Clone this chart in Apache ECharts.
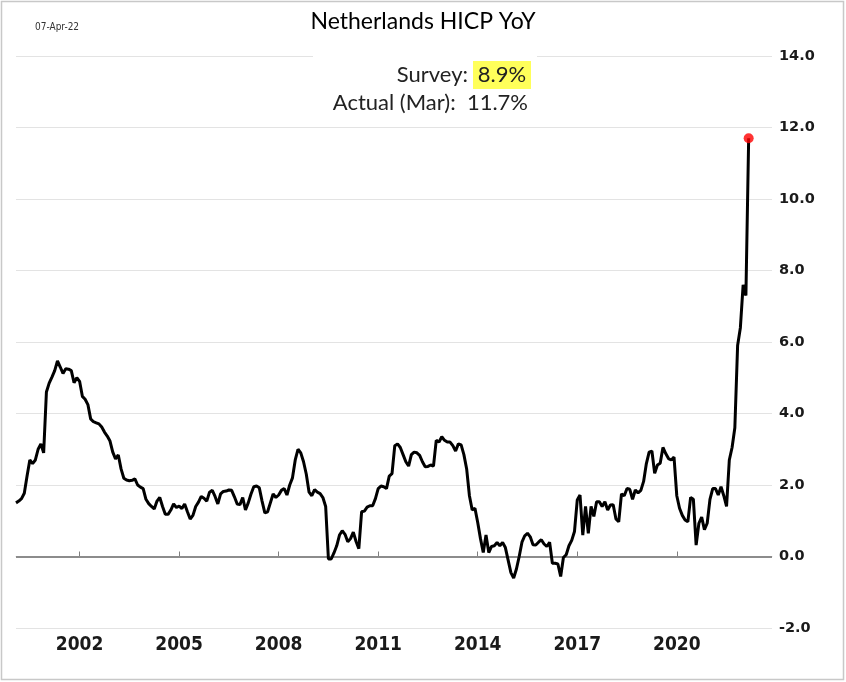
<!DOCTYPE html>
<html>
<head>
<meta charset="utf-8">
<script src="https://cdn.jsdelivr.net/npm/echarts@6/dist/echarts.min.js"></script>
<style>
  html, body { margin: 0; padding: 0; background: #fff; }
  #chart { width: 846px; height: 682px; }
</style>
</head>
<body>
<div id="chart"></div>
<script>
// monthly HICP YoY, %, starting Feb 2000
const startYear = 2000;
const startMonth = 2;
const hicp = [
  1.5, 1.55, 1.62, 1.77, 2.25, 2.7, 2.6, 2.7, 3.0, 3.15, 2.9,               // 2000 (Feb-Dec)
  4.6, 4.85, 5.02, 5.2, 5.47, 5.3, 5.12, 5.25, 5.24, 5.2, 4.86, 5.0,        // 2001
  4.9, 4.48, 4.4, 4.25, 3.85, 3.77, 3.74, 3.71, 3.62, 3.48, 3.37, 3.23,     // 2002
  2.92, 2.73, 2.84, 2.45, 2.19, 2.14, 2.12, 2.13, 2.17, 2.0, 1.94, 1.9,     // 2003
  1.6, 1.48, 1.4, 1.33, 1.55, 1.65, 1.4, 1.18, 1.18, 1.3, 1.47, 1.37,       // 2004
  1.41, 1.34, 1.47, 1.25, 1.05, 1.15, 1.4, 1.52, 1.68, 1.63, 1.55, 1.8,     // 2005
  1.85, 1.68, 1.47, 1.75, 1.82, 1.83, 1.86, 1.85, 1.67, 1.47, 1.45, 1.65,   // 2006
  1.3, 1.5, 1.75, 1.95, 1.97, 1.92, 1.55, 1.22, 1.25, 1.5, 1.75, 1.65,      // 2007
  1.72, 1.85, 1.9, 1.72, 2.0, 2.2, 2.7, 3.0, 2.9, 2.65, 2.3, 1.8,           // 2008
  1.7, 1.87, 1.8, 1.76, 1.65, 1.4, -0.07, -0.07, 0.1, 0.3, 0.6, 0.72,       // 2009
  0.62, 0.41, 0.5, 0.68, 0.42, 0.22, 1.25, 1.27, 1.38, 1.42, 1.42, 1.62,    // 2010
  1.9, 1.97, 1.95, 1.9, 2.25, 2.32, 3.1, 3.15, 3.05, 2.85, 2.65, 2.53,      // 2011
  2.85, 2.92, 2.9, 2.83, 2.65, 2.51, 2.52, 2.56, 2.53, 3.25, 3.2, 3.35,     // 2012
  3.25, 3.2, 3.2, 3.1, 2.95, 3.15, 3.12, 2.85, 2.45, 1.7, 1.3, 1.35,        // 2013
  0.95, 0.5, 0.11, 0.6, 0.11, 0.28, 0.3, 0.39, 0.3, 0.39, 0.25, -0.1,       // 2014
  -0.45, -0.6, -0.35, 0.0, 0.4, 0.58, 0.65, 0.55, 0.33, 0.32, 0.4, 0.47,    // 2015
  0.35, 0.28, 0.4, -0.19, -0.19, -0.21, -0.56, -0.03, 0.05, 0.3, 0.45, 0.7, // 2016
  1.58, 1.72, 0.6, 1.4, 0.65, 1.4, 1.12, 1.53, 1.53, 1.4, 1.53, 1.3,        // 2017
  1.44, 1.45, 1.05, 0.97, 1.75, 1.7, 1.9, 1.88, 1.6, 1.86, 1.78, 1.85,      // 2018
  2.1, 2.6, 2.92, 2.95, 2.33, 2.56, 2.61, 3.05, 2.88, 2.74, 2.7, 2.78,      // 2019
  1.7, 1.35, 1.15, 1.02, 0.97, 1.65, 1.6, 0.32, 0.93, 1.1, 0.75, 0.93,      // 2020
  1.6, 1.9, 1.9, 1.72, 1.95, 1.7, 1.4, 2.7, 3.05, 3.6, 5.9, 6.4,            // 2021
  7.6, 7.3, 11.7                                                            // 2022 (Jan-Mar)
];
const yearTicks = [2002, 2005, 2008, 2011, 2014, 2017, 2020];
const titleText = 'Netherlands HICP YoY';
const dateText = '07-Apr-22';
const surveyText = '8.9%';
const actualText = 'Actual (Mar):  11.7%';

// month -> decimal year
const points = hicp.map(function (v, i) {
    return [startYear + (startMonth - 1 + i) / 12, v];
});
const last = points[points.length - 1];

const chart = echarts.init(document.getElementById('chart'));
const narrow = "'Liberation Sans Narrow', 'DejaVu Sans Condensed', sans-serif";
const body = "Lato, 'Open Sans', sans-serif";

const option = {
    animation: false,
    backgroundColor: '#fff',
    title: {
        text: titleText,
        left: 'center',
        top: 5,
        textStyle: { fontFamily: body, fontSize: 23, fontWeight: 'normal', color: '#000' }
    },
    grid: { left: 16, right: 74, top: 56, bottom: 54 },
    xAxis: {
        type: 'value',
        min: points[0][0],
        max: 2022.87,
        axisLine: { lineStyle: { color: '#d9d9d9', width: 1 } },
        axisTick: { customValues: yearTicks, inside: true, length: 5, lineStyle: { color: '#7f7f7f' } },
        axisLabel: {
            customValues: yearTicks,
            margin: 8,
            fontFamily: narrow,
            fontWeight: 'bold',
            fontSize: 19,
            color: '#1a1a1a',
            formatter: function (v) { return String(v); }
        },
        splitLine: { show: false }
    },
    yAxis: {
        type: 'value',
        position: 'right',
        min: -2,
        max: 14,
        interval: 2,
        axisLine: { show: false },
        axisTick: { show: false },
        axisLabel: {
            margin: 7,
            fontFamily: "'DejaVu Sans', sans-serif",
            fontWeight: 'bold',
            fontSize: 14.5,
            color: '#1a1a1a',
            formatter: function (v) { return v.toFixed(1); }
        },
        splitLine: { lineStyle: { color: '#e3e3e3', width: 1 } }
    },
    series: [
        {
            type: 'line',
            data: points,
            showSymbol: false,
            lineStyle: { color: '#000', width: 3 },
            z: 3,
            markLine: {
                silent: true,
                symbol: 'none',
                label: { show: false },
                lineStyle: { color: '#8c8c8c', width: 2, type: 'solid' },
                data: [{ yAxis: 0 }],
                z: 2
            }
        },
        {
            type: 'scatter',
            data: [last],
            symbolSize: 10,
            itemStyle: { color: '#ff0000' },
            z: 4
        }
    ],
    graphic: [
        {
            type: 'text',
            left: 35,
            top: 22,
            style: { text: dateText, font: "10px " + narrow, fill: '#333' }
        },
        {
            type: 'rect',
            shape: { x: 313, y: 46, width: 224, height: 74 },
            style: { fill: '#fff' },
            z: 10
        },
        {
            type: 'text',
            x: 468, y: 75,
            style: { text: 'Survey:', font: "22px " + body, fill: '#222', align: 'right', verticalAlign: 'middle' },
            z: 11
        },
        {
            type: 'rect',
            shape: { x: 473, y: 61, width: 58, height: 28 },
            style: { fill: '#ffff5a' },
            z: 11
        },
        {
            type: 'text',
            x: 502, y: 75,
            style: { text: surveyText, font: "22px " + body, fill: '#222', align: 'center', verticalAlign: 'middle' },
            z: 12
        },
        {
            type: 'text',
            x: 528, y: 103,
            style: { text: actualText, font: "22px " + body, fill: '#222', align: 'right', verticalAlign: 'middle' },
            z: 11
        },
        {
            type: 'rect',
            shape: { x: 1.5, y: 1.5, width: 842, height: 678 },
            style: { fill: 'none', stroke: '#c8c8c8', lineWidth: 1.5 },
            z: 20
        }
    ]
};
chart.setOption(option);
</script>
</body>
</html>
